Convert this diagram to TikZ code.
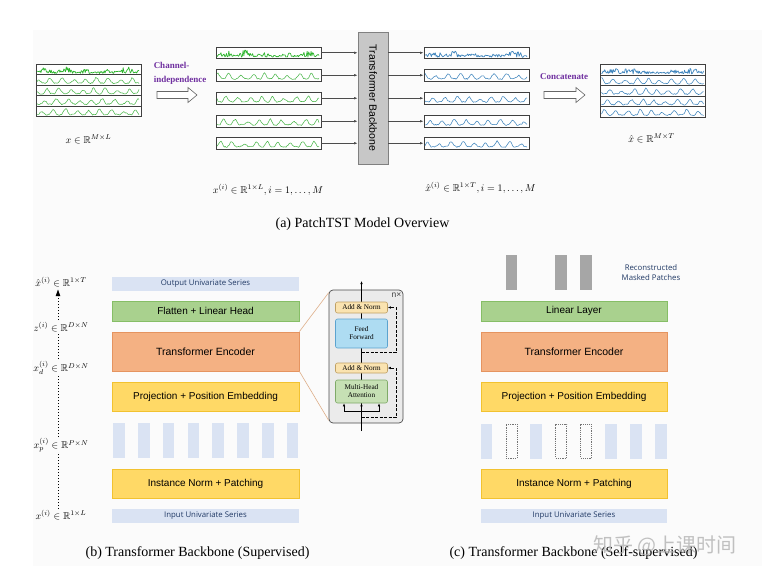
\documentclass[tikz,border=0pt]{standalone}
\usepackage{amsmath,amssymb}
\usepackage{fontspec}
\setmainfont{Liberation Serif}
\setsansfont{Liberation Sans}
\newfontfamily\smallsans{Open Sans}
\newfontfamily\cjk{Noto Sans CJK SC}
\usetikzlibrary{arrows.meta}
\definecolor{bgc}{HTML}{FBFBFB}
\definecolor{purp}{HTML}{7030A0}
\definecolor{grn}{HTML}{2DB52D}
\definecolor{grnl}{HTML}{4DB84D}
\definecolor{blu}{HTML}{3F85BD}
\definecolor{lblue}{HTML}{DAE3F3}
\definecolor{dblue}{HTML}{1F3864}
\definecolor{gfill}{HTML}{A9D18E}
\definecolor{gdraw}{HTML}{86BE66}
\definecolor{ofill}{HTML}{F4B183}
\definecolor{odraw}{HTML}{E59460}
\definecolor{yfill}{HTML}{FFD966}
\definecolor{ydraw}{HTML}{F2C230}
\definecolor{anfill}{HTML}{FAE3B0}
\definecolor{andraw}{HTML}{BFA064}
\definecolor{fffill}{HTML}{AEDCF2}
\definecolor{ffdraw}{HTML}{5BA3CF}
\definecolor{mhfill}{HTML}{C6E0B4}
\definecolor{mhdraw}{HTML}{7FAA68}
\definecolor{zoomc}{HTML}{DDAE88}
\newcommand{\noisyw}[4]{%
 \draw[#4,line width=0.7pt,line join=round] plot[variable=\t,domain=1:#3,samples=130] ({#1+\t},{#2-1.3-7.5*rnd*(0.25+0.75*abs(sin(\t*9)*sin(\t*2.3+40)))});}
\newcommand{\peakw}[5]{%
 \draw[#4,line width=0.55pt,line join=round] plot[variable=\t,domain=1:#3,samples=100] ({#1+\t},{#2-1.5-7*(0.18*rnd+0.82*(0.5+0.5*sin(\t*31+#5+25*sin(\t*7)))^2*(0.45+0.55*abs(sin(\t*4.3+2*#5))))});}
\begin{document}
\begin{tikzpicture}[x=1pt,y=-1pt,
  wbox/.style={draw=black!75,line width=0.8pt,minimum width=105pt,minimum height=11.5pt,inner sep=0pt},
  sbox/.style={draw=black!75,line width=0.8pt,minimum width=105pt,minimum height=52.5pt,inner sep=0pt},
  arr/.style={draw=black!70,line width=0.6pt,-{Latex[length=3.5pt,width=2.5pt]}},
  hollow/.style={draw=black!60,line width=0.6pt,fill=white},
  purptext/.style={text=purp,font=\bfseries\fontsize{9}{13.5}\selectfont,align=left,inner sep=0pt},
  mlabel/.style={font=\fontsize{10}{11}\selectfont,inner sep=0pt},
  caption/.style={font=\fontsize{14}{16}\selectfont,inner sep=0pt},
  series/.style={fill=lblue,minimum height=14pt,inner sep=0pt,text=dblue,font=\smallsans\fontsize{7.8}{9}\selectfont},
  greenbox/.style={fill=gfill,draw=gdraw,line width=0.8pt,minimum height=20pt,inner sep=0pt,font=\sffamily\fontsize{10}{12}\selectfont},
  orangebox/.style={fill=ofill,draw=odraw,line width=0.8pt,minimum height=39pt,inner sep=0pt,font=\sffamily\fontsize{10.5}{12}\selectfont},
  yellowbox/.style={fill=yfill,draw=ydraw,line width=0.8pt,minimum height=29pt,inner sep=0pt,font=\sffamily\fontsize{10}{12}\selectfont},
  patch/.style={fill=lblue,minimum width=11.7pt,minimum height=35pt,inner sep=0pt},
  mpatch/.style={draw=black!55,dashed,dash pattern=on 1.2pt off 1pt,line width=0.5pt,minimum width=11pt,minimum height=34pt,inner sep=0pt},
  rpatch/.style={fill=black!35,minimum width=11.7pt,minimum height=35pt,inner sep=0pt},
  dbox/.style={line width=0.6pt,minimum width=52pt,inner sep=0pt,rounded corners=2pt,align=center,font=\fontsize{7.2}{8}\selectfont},
  darr/.style={draw=black,line width=0.6pt,-{Latex[length=3pt,width=2.5pt]}},
  resid/.style={draw=black,line width=1pt,dashed,dash pattern=on 3pt off 1.5pt,-{Latex[length=3pt,width=2.5pt]}}]
\useasboundingbox (0,0) rectangle (767,577);
\fill[bgc] (33,30) rectangle (762,566);
\pgfmathsetseed{11}
% ---------------- (a) ----------------
\node[sbox,fill=white] (xin) at (88.5,90.5) {};
\foreach \i in {1,...,4} \draw[black!75,line width=0.8pt] (36,{64.25+10.5*\i}) -- (141,{64.25+10.5*\i});
\noisyw{36}{74.75}{103}{grn}
\peakw{36}{85.25}{103}{grnl}{0}
\peakw{36}{95.75}{103}{grnl}{90}
\peakw{36}{106.25}{103}{grnl}{170}
\peakw{36}{116.75}{103}{grnl}{260}
\node[mlabel] (xlab) at (88.5,139) {$x\in\mathbb{R}^{M\times L}$};
\node[purptext] (chind) at (180,73.5) {Channel-\\independence};
\draw[hollow] (157,91.5) -- (188,91.5) -- (188,87.5) -- (197,95) -- (188,102.5) -- (188,98.5) -- (157,98.5) -- cycle;
\foreach \n/\y in {1/52.75,2/75.25,3/98.25,4/121.25,5/143.25} {
  \node[wbox,fill=white] (in\n) at (268.5,\y) {};
  \node[wbox,fill=white] (out\n) at (476.5,\y) {};
}
\noisyw{216}{58.5}{103}{grn}
\peakw{216}{81}{103}{grnl}{30}
\peakw{216}{104}{103}{grnl}{120}
\peakw{216}{127}{103}{grnl}{200}
\peakw{216}{149}{103}{grnl}{300}
\noisyw{424}{58.5}{103}{blu}
\peakw{424}{81}{103}{blu}{60}
\peakw{424}{104}{103}{blu}{150}
\peakw{424}{127}{103}{blu}{240}
\peakw{424}{149}{103}{blu}{330}
\node[draw=black!50,fill=black!22,line width=0.6pt,minimum width=30pt,minimum height=132pt,inner sep=0pt] (bb) at (373,98) {};
\node[rotate=-90,font=\sffamily\fontsize{10.5}{12}\selectfont,inner sep=0pt] (bbt) at (bb.center) {Transformer Backbone};
\foreach \n in {1,...,5} {
  \draw[arr] (in\n.east) -- (bb.west |- in\n.east);
  \draw[arr] (bb.east |- out\n.west) -- (out\n.west);
}
\node[mlabel] (xilab) at (268,190) {$x^{(i)}\in\mathbb{R}^{1\times L}, i=1,\ldots,M$};
\node[mlabel] (xhilab) at (480.5,188) {$\hat{x}^{(i)}\in\mathbb{R}^{1\times T}, i=1,\ldots,M$};
\node[purptext] (concat) at (564,77) {Concatenate};
\draw[hollow] (544,91.5) -- (576,91.5) -- (576,87.5) -- (585,95) -- (576,102.5) -- (576,98.5) -- (544,98.5) -- cycle;
\node[sbox,fill=white] (xout) at (653,91) {};
\foreach \i in {1,...,4} \draw[black!75,line width=0.8pt] (600.5,{64.75+10.5*\i}) -- (705.5,{64.75+10.5*\i});
\noisyw{600.5}{75.25}{103}{blu}
\peakw{600.5}{85.75}{103}{blu}{45}
\peakw{600.5}{96.25}{103}{blu}{135}
\peakw{600.5}{106.75}{103}{blu}{225}
\peakw{600.5}{117.25}{103}{blu}{315}
\node[mlabel] (xhlab) at (651.5,138) {$\hat{x}\in\mathbb{R}^{M\times T}$};
\node[caption] (capa) at (362.5,224) {(a) PatchTST Model Overview};
% ---------------- (b) ----------------
\node[series,minimum width=187pt] (outb) at (205.5,284) {Output Univariate Series};
\node[greenbox,minimum width=187pt] (flat) at (205.5,311) {Flatten + Linear Head};
\node[orangebox,minimum width=187pt] (teb) at (205.5,351.5) {Transformer Encoder};
\node[yellowbox,minimum width=187pt] (projb) at (205.5,396.5) {Projection + Position Embedding};
\foreach \i in {0,...,7} \node[patch] (pb\i) at ({119+24.8*\i},440.5) {};
\node[yellowbox,minimum width=187pt] (instb) at (205.5,483.5) {Instance Norm + Patching};
\node[series,minimum width=187pt] (inb) at (205.5,516) {Input Univariate Series};
\coordinate (lx) at (58,0);
\draw[black,line width=1pt,dotted] (lx |- 0,515) -- (lx |- 0,296);
\fill[black] (55.7,296) -- (58,289.5) -- (60.3,296) -- cycle;
\node[mlabel,fill=bgc,inner sep=1pt] (L1) at (61,282) {$\hat{x}^{(i)}\in\mathbb{R}^{1\times T}$};
\node[mlabel,fill=bgc,inner sep=1pt] (L2) at (61,327) {$z^{(i)}\in\mathbb{R}^{D\times N}$};
\node[mlabel,fill=bgc,inner sep=1pt] (L3) at (61,368) {$x_d^{(i)}\in\mathbb{R}^{D\times N}$};
\node[mlabel,fill=bgc,inner sep=1pt] (L4) at (61,445) {$x_p^{(i)}\in\mathbb{R}^{P\times N}$};
\node[mlabel,fill=bgc,inner sep=1pt] (L5) at (61,515) {$x^{(i)}\in\mathbb{R}^{1\times L}$};
\node[caption] (capb) at (197.5,553) {(b) Transformer Backbone (Supervised)};
% encoder detail
\node[draw=black!70,fill=black!8,line width=0.7pt,rounded corners=4pt,minimum width=74pt,minimum height=133pt,inner sep=0pt] (det) at (366,356.5) {};
\draw[zoomc,line width=0.6pt] (teb.north east) -- ([yshift=-3pt]det.north west);
\draw[zoomc,line width=0.6pt] (teb.south east) -- ([yshift=3pt]det.south west);
\coordinate (mbot) at (361.5,431);
\coordinate (mtop) at (361.5,281);
\draw[darr] (mbot) -- (mtop);
\node[dbox,fill=anfill,draw=andraw,minimum height=11pt] (an2) at (361.5,307.5) {Add \& Norm};
\node[dbox,fill=fffill,draw=ffdraw,minimum height=29pt] (ff) at (361.5,333.5) {Feed\\Forward};
\node[dbox,fill=anfill,draw=andraw,minimum height=10pt] (an1) at (361.5,368) {Add \& Norm};
\node[dbox,fill=mhfill,draw=mhdraw,minimum height=23pt] (mh) at (361.5,391.5) {Multi-Head\\Attention};
\node[font=\sffamily\fontsize{8.5}{9}\selectfont,inner sep=0pt,text=black!75] (nx) at (396.5,295.5) {n×};
\coordinate (i1) at (344,411.5);
\coordinate (i3) at (379,411.5);
\draw[black,line width=0.6pt] (i1) -- (i3);
\draw[darr] (i1) -- (i1 |- mh.south);
\draw[darr] (361.5,411.5) -- (mh.south);
\draw[darr] (i3) -- (i3 |- mh.south);
\draw[resid] (361.5,417) -- (396,417) -- (396,368) -- (an1.east);
\draw[resid] (361.5,352) -- (396,352) -- (396,307.5) -- (an2.east);
% ---------------- (c) ----------------
\foreach \i in {1,3,4} \node[rpatch] (rp\i) at ({486.5+24.9*\i},272.5) {};
\node[text=dblue,font=\smallsans\fontsize{7.8}{10.5}\selectfont,align=center,inner sep=0pt] (recon) at (651,272.5) {Reconstructed\\Masked Patches};
\node[greenbox,minimum width=186pt] (linc) at (574,311) {Linear Layer};
\node[orangebox,minimum width=186pt] (tec) at (574,351.5) {Transformer Encoder};
\node[yellowbox,minimum width=186pt] (projc) at (574,396.5) {Projection + Position Embedding};
\foreach \i in {0,2,5,6,7} \node[patch] (pc\i) at ({486.5+24.9*\i},441) {};
\foreach \i in {1,3,4} \node[mpatch] (pc\i) at ({486.5+24.9*\i},441) {};
\node[yellowbox,minimum width=186pt] (instc) at (574,483.5) {Instance Norm + Patching};
\node[series,minimum width=186pt] (inc) at (574,516) {Input Univariate Series};
\node[caption] (capc) at (573.5,553) {(c) Transformer Backbone (Self-supervised)};
\node[text=black!30,opacity=0.8,font=\cjk\fontsize{20}{22}\selectfont,inner sep=0pt] (wm) at (665,546) {知乎 @上课时间};
\end{tikzpicture}
\end{document}
